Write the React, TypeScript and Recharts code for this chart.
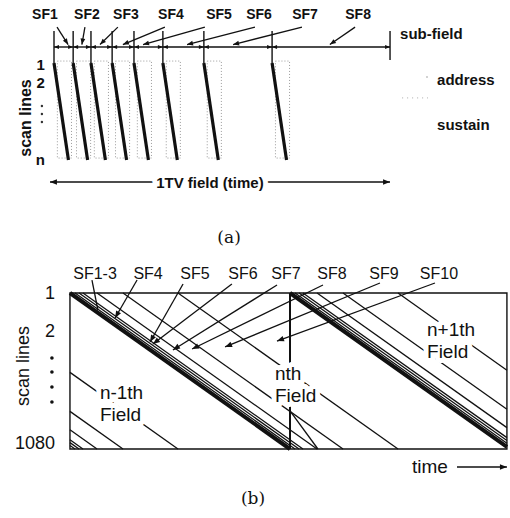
import { ComposedChart, XAxis, YAxis, ReferenceLine, ReferenceDot, ReferenceArea } from "recharts";

const INK = "#111";
const SANS = "'Liberation Sans', Arial, sans-serif";
const SERIF = "'DejaVu Serif', serif";

// ---- (a) one TV field split into sub-fields ----
// time: fraction of one TV field, scan: 0 = line 1 .. 1 = line n
const sfNamesA = ["SF1", "SF2", "SF3", "SF4", "SF5", "SF6", "SF7", "SF8"];
const sfStartA = [0, 0.057, 0.11, 0.173, 0.238, 0.324, 0.446, 0.649];
const fieldEndA = 1;
const addressTimeA = 0.043;
const sustainWindowA = [0.01, 0.052];
const sfLabelTimeA = [-0.027, 0.098, 0.214, 0.348, 0.491, 0.61, 0.747, 0.905];
const sfPointFromA = [0.009, 0.092, 0.19, 0.33, 0.449, 0.598, 0.738, 0.896];
const sfPointToA = [0.042, 0.083, 0.137, 0.205, 0.265, 0.396, 0.533, 0.821];
const rowLabelsA = ["1", "2", "n"];
const rowScanA = [0.015, 0.206, 1.0];
const rowDotsA = [0.443, 0.526, 0.608];

// ---- (b) 1080 scan lines, three successive fields ----
// time: in field periods (nth field starts at 0), scan: 0 = line 1 .. 1 = line 1080
const fieldStartsB = [-1, 0, 1];
const fieldNamesB = ["n-1th", "nth", "n+1th"];
const addressOffsetB = [0, 0.023, 0.041, 0.059, 0.123, 0.241, 0.491];
const plotEndB = 1.986;
const sfNamesB = ["SF1-3", "SF4", "SF5", "SF6", "SF7", "SF8", "SF9", "SF10"];
const sfLabelTimeB = [0.114, 0.355, 0.568, 0.786, 0.982, 1.191, 1.427, 1.677];
const sfFromB = [
  [0.1, -0.083], [0.305, -0.083], [0.514, -0.058], [0.736, -0.058],
  [0.941, -0.051], [1.15, -0.051], [1.409, -0.064], [1.659, -0.064],
];
const sfToB = [
  [0.127, 0.109], [0.205, 0.16], [0.364, 0.314], [0.377, 0.327],
  [0.468, 0.365], [0.555, 0.359], [0.705, 0.346], [0.941, 0.308],
];
const rowLabelsB = ["1", "2", "1080"];
const rowScanB = [0.003, 0.244, 0.962];
const rowDotsB = [0.417, 0.506, 0.603, 0.699];

function Arrow(p: any) {
  const { x1, y1, x2, y2, w = 1.3, head = 6, start = false, end = true, color = INK, dash } = p;
  const len = Math.hypot(x2 - x1, y2 - y1) || 1;
  const ux = (x2 - x1) / len;
  const uy = (y2 - y1) / len;
  const tri = (x: number, y: number, dx: number, dy: number) => {
    const bx = x - dx * head;
    const by = y - dy * head;
    const hw = head * 0.4;
    return `${x},${y} ${bx - dy * hw},${by + dx * hw} ${bx + dy * hw},${by - dx * hw}`;
  };
  return (
    <g>
      <line x1={x1} y1={y1} x2={x2} y2={y2} stroke={color} strokeWidth={w} strokeDasharray={dash} />
      {start && <polygon points={tri(x1, y1, -ux, -uy)} fill={color} />}
      {end && <polygon points={tri(x2, y2, ux, uy)} fill={color} />}
    </g>
  );
}

function Txt(p: any) {
  const { cx, cy, text, size, weight = "normal", anchor = "middle", halo = false, rotate = false, family = SANS } = p;
  return (
    <text
      x={cx}
      y={cy}
      textAnchor={anchor}
      dominantBaseline="central"
      fontSize={size}
      fontWeight={weight}
      fontFamily={family}
      fill={INK}
      stroke={halo ? "#fff" : "none"}
      strokeWidth={halo ? 10 : 0}
      strokeLinejoin="round"
      paintOrder="stroke"
      transform={rotate ? `rotate(-90 ${cx} ${cy})` : undefined}
    >
      {text}
    </text>
  );
}

function seg(t1: number, s1: number, t2: number, s2: number, key: string, opts: any = {}) {
  return (
    <ReferenceLine
      key={key}
      segment={[{ x: t1, y: s1 }, { x: t2, y: s2 }]}
      ifOverflow="visible"
      shape={(p: any) => <Arrow x1={p.x1} y1={p.y1} x2={p.x2} y2={p.y2} start={false} end={false} {...opts} />}
    />
  );
}

function label(t: number, s: number, key: string, opts: any) {
  return (
    <ReferenceDot
      key={key}
      x={t}
      y={s}
      r={1}
      ifOverflow="visible"
      shape={(p: any) => <Txt cx={p.cx} cy={p.cy} {...opts} />}
    />
  );
}

function SubFieldChart() {
  const bounds = [...sfStartA, fieldEndA];
  return (
    <ComposedChart width={510} height={250} margin={{ top: 0, right: 0, bottom: 0, left: 0 }}>
      <XAxis type="number" dataKey="t" domain={[-0.1607, 1.357]} allowDataOverflow hide />
      <YAxis type="number" dataKey="s" domain={[-0.6495, 1.928]} allowDataOverflow reversed hide />
      {sfStartA.map((b, i) => (
        <ReferenceArea
          key={`sus${i}`}
          x1={b + sustainWindowA[0]}
          x2={b + sustainWindowA[1]}
          y1={-0.02}
          y2={0.98}
          ifOverflow="visible"
          fill="none"
          fillOpacity={0}
          stroke="#9a9a9a"
          strokeDasharray="1 2"
        />
      ))}
      {bounds.map((b, i) => seg(b, -0.33, b, b === fieldEndA ? -0.03 : 0, `bd${i}`, { w: 1.4 }))}
      {sfStartA.map((b, i) => seg(b, -0.165, bounds[i + 1], -0.165, `dim${i}`, { w: 1.4, head: 5, start: true, end: true }))}
      {sfStartA.map((b, i) => seg(b, 0, b + addressTimeA, 1, `adr${i}`, { w: 3.2 }))}
      {sfNamesA.map((n, i) => seg(sfPointFromA[i], -0.37, sfPointToA[i], -0.19, `ptr${i}`, { w: 1.3, head: 6, end: true }))}
      {seg(-0.012, 1.227, fieldEndA, 1.227, "tv", { w: 1.4, head: 7, start: true, end: true })}
      {seg(1.036, 0.36, 1.113, 0.36, "legS", { w: 1, color: "#aaa", dash: "1 4" })}
      {sfNamesA.map((n, i) => label(sfLabelTimeA[i], -0.505, `sfl${i}`, { text: n, size: 14, weight: "bold" }))}
      {rowLabelsA.map((n, i) => label(-0.027, rowScanA[i], `rl${i}`, { text: n, size: 15, weight: "bold", anchor: "end" }))}
      {rowDotsA.map((d, i) => (
        <ReferenceDot key={`rd${i}`} x={-0.036} y={d} r={1.2} fill="#333" stroke="none" ifOverflow="visible" />
      ))}
      <ReferenceDot x={1.11} y={0.144} r={0.8} fill="#999" stroke="none" ifOverflow="visible" />
      {label(-0.086, 0.567, "scan", { text: "scan lines", size: 16, weight: "bold", rotate: true })}
      {label(1.03, -0.309, "subf", { text: "sub-field", size: 15, weight: "bold", anchor: "start" })}
      {label(1.14, 0.165, "addr", { text: "address", size: 15, weight: "bold", anchor: "start" })}
      {label(1.14, 0.639, "sus", { text: "sustain", size: 15, weight: "bold", anchor: "start" })}
      {label(0.464, 1.227, "tvl", { text: "1TV field (time)", size: 15, weight: "bold", halo: true })}
      {label(0.521, 1.794, "cap", { text: "(a)", size: 17, family: SERIF })}
    </ComposedChart>
  );
}

function FieldChart() {
  const lines: any[] = [];
  fieldStartsB.forEach((f, fi) => {
    addressOffsetB.forEach((o, oi) => {
      const start = f + o;
      const tA = Math.max(start, 0);
      const tB = Math.min(start + 1, plotEndB);
      if (tB - tA < 0.002) return;
      lines.push(seg(tA, tA - start, tB, tB - start, `fl${fi}-${oi}`, { w: oi === 0 ? 4 : 1.3 }));
    });
  });
  return (
    <ComposedChart width={510} height={268} margin={{ top: 0, right: 0, bottom: 0, left: 0 }}>
      <XAxis type="number" dataKey="t" domain={[-0.318, 2.0]} allowDataOverflow hide />
      <YAxis type="number" dataKey="s" domain={[-0.2756, 1.4423]} allowDataOverflow reversed hide />
      <ReferenceArea x1={0} x2={plotEndB} y1={0} y2={1} ifOverflow="visible" fill="none" fillOpacity={0} stroke={INK} strokeWidth={1.4} />
      {lines}
      {seg(1, 0, 1, 1, "nb", { w: 2 })}
      {seg(1, 0.756, 1.127, 1, "nb2", { w: 1.3 })}
      {sfNamesB.map((n, i) =>
        seg(sfFromB[i][0], sfFromB[i][1], sfToB[i][0], sfToB[i][1], `sp${i}`, { w: 1.3, head: 7, end: i > 0 })
      )}
      {seg(1.759, 1.115, plotEndB, 1.115, "time", { w: 1.6, head: 7, end: true })}
      {sfNamesB.map((n, i) => label(sfLabelTimeB[i], -0.128, `sl${i}`, { text: n, size: 16 }))}
      {rowLabelsB.map((n, i) => label(-0.068, rowScanB[i], `rb${i}`, { text: n, size: 18, anchor: "end" }))}
      {rowDotsB.map((d, i) => (
        <ReferenceDot key={`db${i}`} x={-0.082} y={d} r={1.8} fill={INK} stroke="none" ifOverflow="visible" />
      ))}
      {label(-0.214, 0.468, "scanb", { text: "scan lines", size: 18, rotate: true })}
      {label(0.136, 0.635, "f0a", { text: fieldNamesB[0], size: 19, anchor: "start", halo: true })}
      {label(0.136, 0.782, "f0b", { text: "Field", size: 19, anchor: "start", halo: true })}
      {label(0.932, 0.519, "f1a", { text: fieldNamesB[1], size: 19, anchor: "start", halo: true })}
      {label(0.932, 0.66, "f1b", { text: "Field", size: 19, anchor: "start", halo: true })}
      {label(1.623, 0.237, "f2a", { text: fieldNamesB[2], size: 19, anchor: "start", halo: true })}
      {label(1.623, 0.372, "f2b", { text: "Field", size: 19, anchor: "start", halo: true })}
      {label(1.636, 1.109, "timel", { text: "time", size: 19 })}
      {label(0.832, 1.314, "capb", { text: "(b)", size: 17, family: SERIF })}
    </ComposedChart>
  );
}

export default function App() {
  return (
    <div style={{ position: "absolute", left: 0, top: 0, width: 510, height: 518, background: "#fff" }}>
      <SubFieldChart />
      <FieldChart />
    </div>
  );
}
